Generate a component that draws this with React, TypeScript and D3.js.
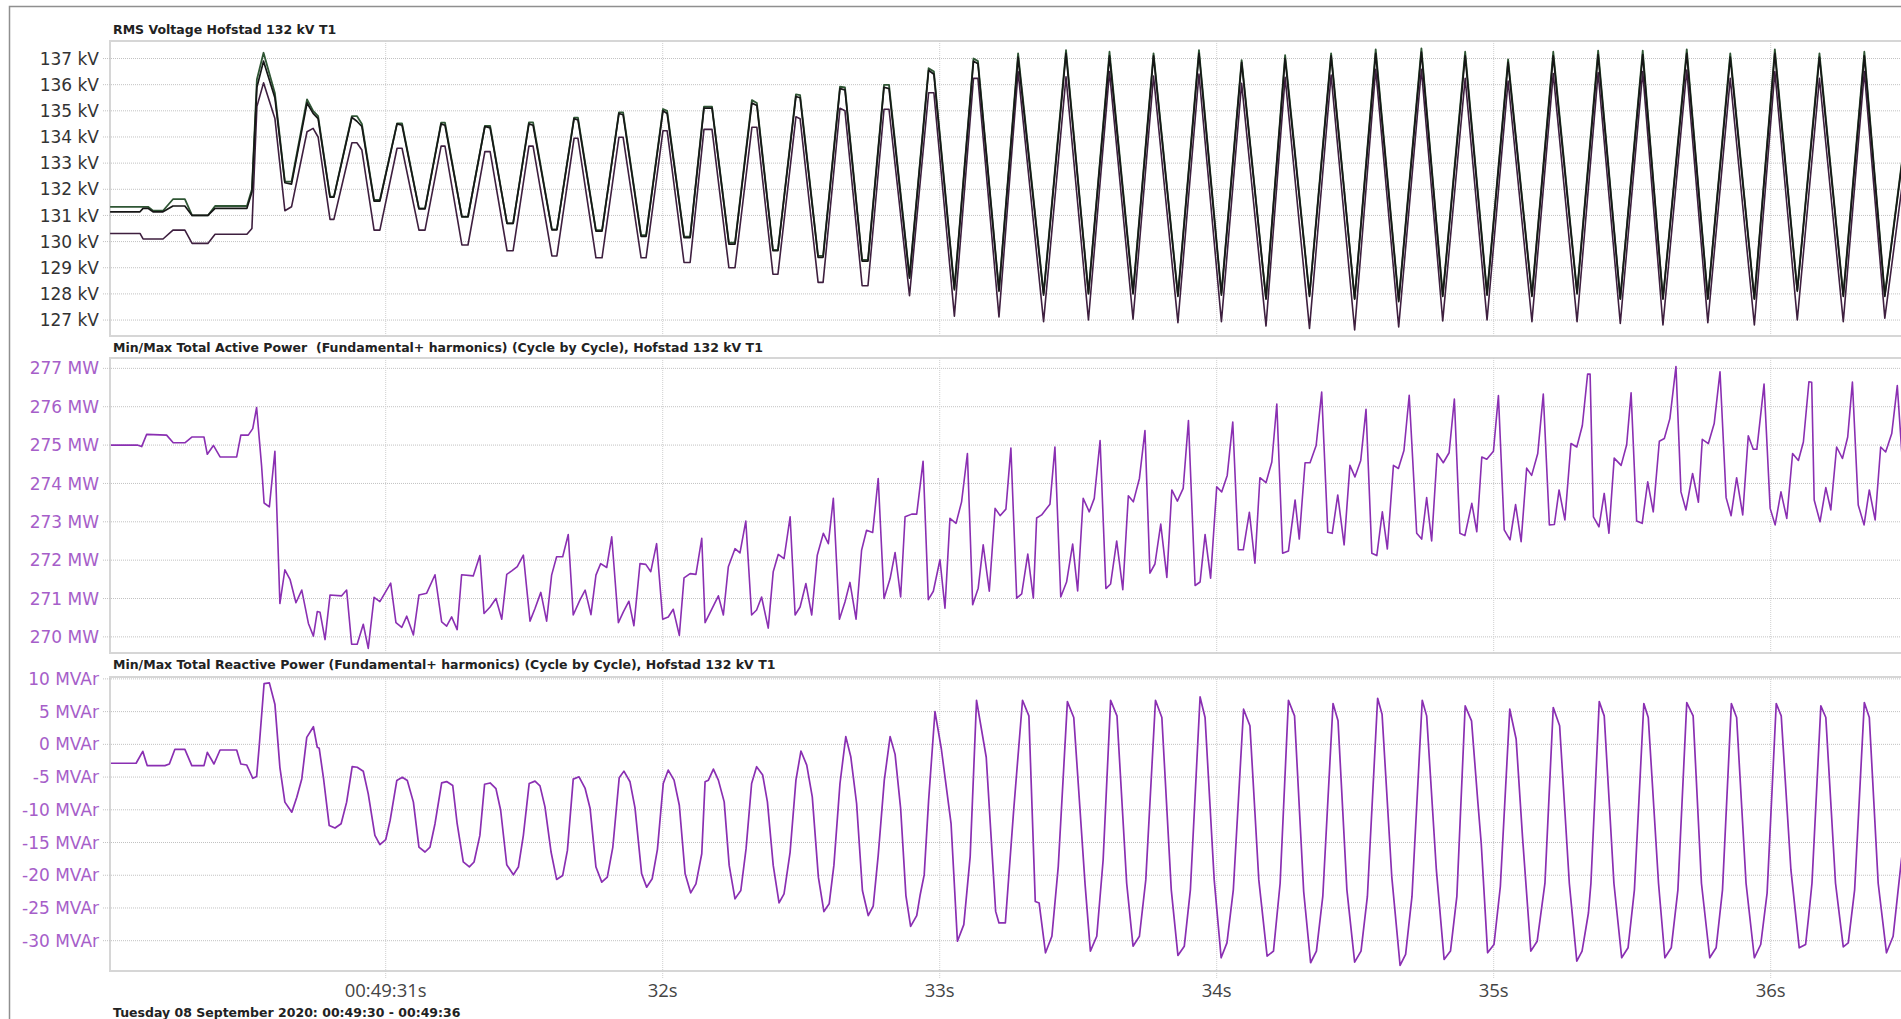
import React from 'react';
import * as d3 from 'd3';

// ---------- RMS voltage (three phases), time in seconds after 00:49:00 ----------
const vTime = [
  30.005, 30.113, 30.124, 30.142, 30.160, 30.196, 30.232, 30.275, 30.301, 30.358,
  30.384, 30.499, 30.517, 30.535, 30.559, 30.600, 30.636, 30.660, 30.716, 30.738,
  30.756, 30.799, 30.813, 30.878, 30.896, 30.914, 30.958, 30.979, 31.041, 31.059,
  31.120, 31.142, 31.200, 31.214, 31.275, 31.297, 31.358, 31.377, 31.438, 31.460,
  31.517, 31.532, 31.600, 31.618, 31.680, 31.694, 31.759, 31.781, 31.842, 31.857,
  31.922, 31.940, 32.001, 32.016, 32.077, 32.099, 32.149, 32.178, 32.239, 32.261,
  32.322, 32.340, 32.398, 32.416, 32.481, 32.496, 32.561, 32.579, 32.640, 32.658,
  32.720, 32.741, 32.799, 32.817, 32.891, 32.960, 32.979, 33.053, 33.122, 33.138,
  33.214, 33.283, 33.375, 33.456, 33.537, 33.613, 33.698, 33.772, 33.860, 33.936,
  34.017, 34.090, 34.178, 34.247, 34.335, 34.413, 34.498, 34.574, 34.657, 34.739,
  34.816, 34.897, 34.976, 35.052, 35.138, 35.215, 35.301, 35.377, 35.457, 35.538,
  35.611, 35.697, 35.773, 35.854, 35.941, 36.015, 36.096, 36.176, 36.262, 36.338,
  36.412, 36.485,
];
const vPhaseGreen = [
  131.33, 131.33, 131.33, 131.33, 131.18, 131.18, 131.62, 131.62, 131.0, 131.0,
  131.36, 131.36, 132.0, 136.2, 137.22, 135.67, 132.29, 132.29, 135.44, 135.0,
  134.8, 131.72, 131.72, 134.8, 134.8, 134.5, 131.59, 131.59, 134.52, 134.52,
  131.27, 131.27, 134.55, 134.55, 130.95, 130.95, 134.42, 134.42, 130.7, 130.7,
  134.56, 134.56, 130.47, 130.47, 134.74, 134.74, 130.44, 130.44, 134.94, 134.94,
  130.25, 130.25, 135.07, 135.0, 130.19, 130.19, 135.16, 135.16, 129.96, 129.96,
  135.41, 135.3, 129.68, 129.68, 135.63, 135.6, 129.45, 129.45, 135.92, 135.9,
  129.3, 129.3, 135.99, 135.99, 128.66, 136.63, 136.5, 128.21, 137.0, 136.9,
  128.15, 137.2, 128.02, 137.32, 128.04, 137.26, 128.08, 137.2, 127.96, 137.32,
  128.02, 136.94, 127.83, 137.13, 127.96, 137.2, 127.83, 137.35, 127.76, 137.39,
  127.96, 137.26, 128.02, 136.97, 127.96, 137.26, 128.08, 137.3, 127.83, 137.3,
  127.83, 137.35, 127.83, 137.2, 127.83, 137.35, 128.15, 137.2, 127.96, 137.26,
  127.96, 134.0,
];
const vPhaseBlack = [
  131.14, 131.14, 131.27, 131.27, 131.14, 131.14, 131.36, 131.36, 131.0, 131.0,
  131.27, 131.27, 131.9, 135.9, 136.9, 135.5, 132.25, 132.2, 135.3, 134.9,
  134.7, 131.7, 131.7, 134.75, 134.6, 134.4, 131.55, 131.55, 134.5, 134.45,
  131.25, 131.25, 134.5, 134.45, 130.95, 130.95, 134.4, 134.35, 130.7, 130.7,
  134.5, 134.45, 130.45, 130.45, 134.7, 134.65, 130.4, 130.4, 134.9, 134.85,
  130.2, 130.2, 135.0, 134.9, 130.15, 130.15, 135.1, 135.1, 129.9, 129.9,
  135.3, 135.2, 129.65, 129.65, 135.55, 135.5, 129.4, 129.4, 135.85, 135.8,
  129.25, 129.25, 135.9, 135.85, 128.6, 136.55, 136.4, 128.15, 136.9, 136.8,
  128.1, 137.05, 127.95, 137.2, 128.0, 137.1, 128.0, 137.1, 127.9, 137.2,
  127.95, 136.85, 127.8, 137.0, 127.9, 137.1, 127.8, 137.2, 127.7, 137.25,
  127.9, 137.1, 127.95, 136.85, 127.9, 137.1, 128.0, 137.15, 127.8, 137.15,
  127.8, 137.2, 127.8, 137.05, 127.8, 137.2, 128.1, 137.05, 127.9, 137.1,
  127.9, 133.9,
];
const vPhasePurple = [
  130.31, 130.31, 130.1, 130.1, 130.1, 130.1, 130.44, 130.44, 129.93, 129.93,
  130.28, 130.28, 130.5, 135.16, 136.07, 134.71, 131.18, 131.33, 134.2, 134.33,
  134.0, 130.85, 130.85, 133.78, 133.78, 133.5, 130.44, 130.44, 133.57, 133.57,
  130.44, 130.44, 133.65, 133.65, 129.87, 129.87, 133.44, 133.44, 129.65, 129.65,
  133.65, 133.65, 129.45, 129.45, 133.95, 133.95, 129.38, 129.38, 133.99, 133.99,
  129.38, 129.38, 134.24, 134.24, 129.2, 129.2, 134.29, 134.29, 129.0, 129.0,
  134.37, 134.37, 128.75, 128.75, 134.77, 134.7, 128.44, 128.44, 135.1, 135.0,
  128.31, 128.31, 135.06, 135.06, 127.93, 135.69, 135.69, 127.15, 136.24, 136.24,
  127.12, 136.5, 126.94, 136.3, 127.0, 136.5, 127.03, 136.33, 126.9, 136.41,
  126.94, 136.05, 126.77, 136.28, 126.68, 136.37, 126.62, 136.59, 126.74, 136.59,
  126.97, 136.24, 127.0, 136.14, 126.94, 136.43, 126.94, 136.46, 126.87, 136.5,
  126.81, 136.56, 126.9, 136.24, 126.81, 136.5, 127.0, 136.24, 126.94, 136.5,
  127.07, 133.0,
];

// ---------- Total active power (MW) ----------
const pTime = [
  30.008, 30.103, 30.119, 30.137, 30.209, 30.233, 30.275, 30.300, 30.344, 30.356,
  30.378, 30.402, 30.462, 30.477, 30.504, 30.520, 30.534, 30.552, 30.561, 30.580,
  30.600, 30.618, 30.636, 30.655, 30.676, 30.697, 30.721, 30.739, 30.753, 30.763,
  30.781, 30.799, 30.841, 30.859, 30.877, 30.897, 30.919, 30.937, 30.958, 30.979,
  31.018, 31.037, 31.058, 31.076, 31.100, 31.120, 31.148, 31.178, 31.202, 31.220,
  31.238, 31.258, 31.274, 31.316, 31.340, 31.355, 31.377, 31.398, 31.419, 31.437,
  31.455, 31.475, 31.497, 31.521, 31.539, 31.560, 31.581, 31.599, 31.617, 31.639,
  31.659, 31.677, 31.701, 31.720, 31.741, 31.759, 31.776, 31.798, 31.816, 31.840,
  31.858, 31.878, 31.896, 31.918, 31.939, 31.957, 31.978, 32.000, 32.020, 32.038,
  32.060, 32.077, 32.099, 32.120, 32.141, 32.153, 32.171, 32.201, 32.219, 32.237,
  32.261, 32.279, 32.300, 32.321, 32.339, 32.357, 32.381, 32.399, 32.417, 32.438,
  32.460, 32.478, 32.496, 32.517, 32.538, 32.558, 32.580, 32.598, 32.616, 32.638,
  32.658, 32.676, 32.698, 32.718, 32.736, 32.758, 32.778, 32.799, 32.821, 32.839,
  32.859, 32.875, 32.899, 32.917, 32.940, 32.959, 32.977, 33.001, 33.019, 33.037,
  33.059, 33.079, 33.100, 33.119, 33.139, 33.157, 33.179, 33.200, 33.218, 33.239,
  33.257, 33.278, 33.296, 33.318, 33.338, 33.350, 33.368, 33.398, 33.416, 33.437,
  33.458, 33.480, 33.498, 33.518, 33.540, 33.558, 33.579, 33.600, 33.617, 33.639,
  33.661, 33.681, 33.699, 33.721, 33.741, 33.759, 33.777, 33.798, 33.820, 33.838,
  33.858, 33.879, 33.898, 33.922, 33.940, 33.958, 33.978, 34.000, 34.018, 34.038,
  34.058, 34.078, 34.096, 34.118, 34.138, 34.156, 34.178, 34.199, 34.217, 34.238,
  34.259, 34.283, 34.298, 34.319, 34.337, 34.359, 34.379, 34.401, 34.417, 34.437,
  34.460, 34.481, 34.499, 34.520, 34.539, 34.560, 34.578, 34.598, 34.616, 34.638,
  34.656, 34.676, 34.695, 34.722, 34.740, 34.758, 34.776, 34.796, 34.818, 34.839,
  34.858, 34.878, 34.896, 34.921, 34.939, 34.957, 34.975, 34.999, 35.017, 35.038,
  35.059, 35.079, 35.099, 35.119, 35.137, 35.159, 35.179, 35.201, 35.219, 35.236,
  35.257, 35.279, 35.300, 35.320, 35.339, 35.348, 35.360, 35.380, 35.399, 35.416,
  35.435, 35.460, 35.480, 35.496, 35.516, 35.536, 35.556, 35.576, 35.598, 35.616,
  35.636, 35.658, 35.676, 35.694, 35.718, 35.739, 35.753, 35.775, 35.796, 35.817,
  35.839, 35.857, 35.877, 35.899, 35.919, 35.937, 35.950, 35.976, 35.998, 36.016,
  36.037, 36.058, 36.079, 36.100, 36.118, 36.138, 36.148, 36.157, 36.178, 36.199,
  36.217, 36.238, 36.259, 36.278, 36.295, 36.316, 36.337, 36.356, 36.377, 36.397,
  36.415, 36.437, 36.457, 36.478, 36.490,
];
const pValue = [
  275.0, 275.0, 274.96, 275.28, 275.26, 275.06, 275.06, 275.21, 275.21, 274.76,
  274.99, 274.69, 274.69, 275.26, 275.26, 275.43, 275.98, 274.45, 273.49, 273.39,
  274.84, 270.87, 271.75, 271.49, 270.89, 271.22, 270.35, 270.02, 270.66, 270.64,
  269.93, 271.09, 271.07, 271.22, 269.81, 269.81, 270.33, 269.7, 271.03, 270.92,
  271.4, 270.37, 270.25, 270.54, 270.05, 271.09, 271.14, 271.62, 270.39, 270.28,
  270.52, 270.19, 271.62, 271.59, 272.12, 270.61, 270.78, 271.0, 270.46, 271.63,
  271.72, 271.83, 272.13, 270.41, 270.74, 271.16, 270.41, 271.61, 272.09, 272.09,
  272.67, 270.57, 270.96, 271.22, 270.58, 271.61, 271.91, 271.81, 272.61, 270.37,
  270.65, 270.93, 270.29, 271.91, 271.89, 271.7, 272.43, 270.46, 270.52, 270.72,
  270.04, 271.54, 271.65, 271.63, 272.57, 270.37, 270.63, 271.07, 270.57, 271.83,
  272.3, 272.19, 273.02, 270.57, 270.7, 271.04, 270.23, 271.7, 272.15, 272.04,
  273.13, 270.57, 270.78, 271.39, 270.57, 272.13, 272.7, 272.43, 273.61, 270.46,
  270.91, 271.42, 270.46, 272.26, 272.78, 272.72, 274.13, 271.0, 271.52, 272.2,
  271.04, 273.13, 273.2, 273.2, 274.58, 270.97, 271.19, 272.01, 270.75, 273.09,
  272.96, 273.52, 274.78, 270.84, 271.27, 272.4, 271.19, 273.35, 273.16, 273.33,
  274.92, 271.01, 271.12, 272.16, 271.01, 273.1, 273.18, 273.46, 274.95, 271.04,
  271.43, 272.42, 271.2, 273.61, 273.26, 273.61, 275.12, 271.26, 271.38, 272.5,
  271.23, 273.68, 273.52, 274.13, 275.38, 271.66, 271.9, 272.94, 271.55, 273.83,
  273.54, 273.87, 275.64, 271.34, 271.43, 272.67, 271.53, 273.91, 273.78, 274.21,
  275.6, 272.27, 272.27, 273.25, 271.92, 274.15, 274.02, 274.56, 276.07, 272.18,
  272.24, 273.57, 272.55, 274.54, 274.54, 274.99, 276.38, 272.73, 272.7, 273.7,
  272.4, 274.47, 274.17, 274.6, 275.93, 272.18, 272.12, 273.26, 272.29, 274.47,
  274.39, 274.86, 276.3, 272.7, 272.55, 273.63, 272.5, 274.78, 274.54, 274.8,
  276.2, 272.7, 272.64, 273.48, 272.74, 274.69, 274.63, 274.84, 276.29, 272.79,
  272.53, 273.45, 272.48, 274.4, 274.21, 274.78, 276.33, 272.92, 272.93, 273.83,
  273.05, 275.04, 274.95, 275.51, 276.85, 276.85, 273.13, 272.87, 273.74, 272.7,
  274.66, 274.47, 275.01, 276.36, 273.02, 272.96, 274.04, 273.26, 275.1, 275.17,
  275.69, 277.05, 273.78, 273.31, 274.26, 273.51, 275.15, 275.04, 275.56, 276.91,
  273.63, 273.16, 274.15, 273.18, 275.24, 274.89, 274.89, 276.59, 273.35, 272.92,
  273.78, 273.09, 274.78, 274.6, 275.08, 276.65, 276.64, 273.57, 273.0, 273.89,
  273.31, 274.95, 274.65, 275.21, 276.64, 273.44, 272.92, 273.83, 273.05, 274.95,
  274.82, 275.3, 276.55, 274.3, 273.5,
];

// ---------- Total reactive power (MVAr) ----------
const qTime = [
  30.008, 30.099, 30.123, 30.139, 30.203, 30.219, 30.239, 30.275, 30.300, 30.344,
  30.356, 30.380, 30.402, 30.462, 30.477, 30.498, 30.520, 30.534, 30.544, 30.561,
  30.580, 30.600, 30.618, 30.636, 30.661, 30.679, 30.697, 30.715, 30.739, 30.753,
  30.760, 30.775, 30.796, 30.817, 30.839, 30.859, 30.879, 30.897, 30.919, 30.937,
  30.961, 30.979, 31.000, 31.016, 31.040, 31.060, 31.078, 31.100, 31.120, 31.142,
  31.160, 31.178, 31.202, 31.220, 31.242, 31.258, 31.280, 31.302, 31.319, 31.340,
  31.357, 31.377, 31.398, 31.415, 31.437, 31.461, 31.479, 31.497, 31.518, 31.539,
  31.557, 31.575, 31.597, 31.617, 31.639, 31.656, 31.677, 31.698, 31.720, 31.738,
  31.759, 31.780, 31.800, 31.820, 31.843, 31.860, 31.882, 31.900, 31.924, 31.942,
  31.962, 31.981, 32.002, 32.020, 32.041, 32.060, 32.081, 32.101, 32.120, 32.141,
  32.153, 32.165, 32.183, 32.201, 32.222, 32.240, 32.261, 32.282, 32.301, 32.321,
  32.339, 32.361, 32.378, 32.399, 32.420, 32.438, 32.460, 32.481, 32.499, 32.520,
  32.540, 32.562, 32.582, 32.601, 32.618, 32.640, 32.661, 32.679, 32.700, 32.721,
  32.742, 32.760, 32.778, 32.800, 32.821, 32.839, 32.859, 32.878, 32.895, 32.917,
  32.929, 32.944, 32.960, 32.983, 33.006, 33.041, 33.064, 33.087, 33.110, 33.133,
  33.168, 33.202, 33.214, 33.237, 33.267, 33.299, 33.322, 33.345, 33.359, 33.382,
  33.405, 33.428, 33.461, 33.484, 33.525, 33.544, 33.567, 33.590, 33.617, 33.640,
  33.675, 33.698, 33.721, 33.744, 33.779, 33.802, 33.836, 33.860, 33.883, 33.905,
  33.940, 33.958, 33.991, 34.016, 34.037, 34.060, 34.097, 34.120, 34.152, 34.182,
  34.205, 34.229, 34.259, 34.281, 34.314, 34.339, 34.360, 34.383, 34.420, 34.438,
  34.470, 34.498, 34.521, 34.544, 34.581, 34.597, 34.632, 34.662, 34.682, 34.705,
  34.742, 34.758, 34.793, 34.821, 34.844, 34.867, 34.897, 34.920, 34.943, 34.955,
  34.978, 35.001, 35.024, 35.058, 35.081, 35.104, 35.134, 35.157, 35.185, 35.215,
  35.238, 35.273, 35.300, 35.319, 35.342, 35.351, 35.381, 35.399, 35.434, 35.462,
  35.485, 35.508, 35.542, 35.558, 35.595, 35.618, 35.641, 35.665, 35.697, 35.720,
  35.750, 35.780, 35.803, 35.826, 35.858, 35.877, 35.911, 35.941, 35.964, 35.987,
  36.020, 36.038, 36.073, 36.103, 36.126, 36.137, 36.149, 36.181, 36.199, 36.234,
  36.262, 36.280, 36.303, 36.338, 36.356, 36.388, 36.418, 36.442, 36.471, 36.500,
];
const qValue = [
  -2.89, -2.89, -1.07, -3.25, -3.25, -3.0, -0.76, -0.76, -3.25, -3.25,
  -1.22, -3.0, -0.86, -0.86, -3.0, -3.15, -5.18, -4.92, 0.05, 9.29,
  9.39, 6.14, -3.5, -8.83, -10.36, -8.07, -5.28, 1.07, 2.69, -0.46,
  -0.61, -5.03, -12.39, -12.79, -12.13, -8.83, -3.4, -3.5, -4.11, -7.56,
  -13.91, -15.33, -14.57, -11.62, -5.53, -5.03, -5.53, -8.83, -15.69, -16.45,
  -15.69, -12.13, -5.89, -5.69, -6.29, -12.13, -17.97, -18.73, -17.97, -13.91,
  -6.1, -5.9, -6.77, -10.07, -18.4, -19.93, -18.75, -13.9, -5.98, -5.62,
  -6.34, -9.56, -16.45, -20.64, -20.03, -16.2, -5.31, -4.96, -6.74, -9.81,
  -18.75, -21.05, -20.29, -15.69, -5.11, -4.09, -5.72, -9.71, -19.78, -21.82,
  -20.54, -16.04, -5.98, -3.93, -5.47, -9.3, -19.78, -22.69, -21.31, -16.71,
  -5.72, -5.47, -3.78, -5.47, -8.79, -18.5, -23.61, -22.33, -15.94, -5.98,
  -3.42, -4.7, -8.79, -18.5, -24.22, -22.84, -16.45, -5.47, -1.02, -3.17,
  -8.02, -20.29, -25.55, -24.37, -18.5, -5.98, 1.18, -1.89, -9.04, -22.33,
  -26.16, -24.73, -16.96, -5.47, 1.18, -1.53, -9.81, -23.1, -27.8, -26.16,
  -23.1, -19.95, -8.56, 5.01, -0.71, -12.1, -30.08, -27.54, -17.16, 6.73,
  -1.97, -25.52, -27.29, -27.29, -10.08, 6.73, 4.35, -24.0, -24.25, -31.85,
  -29.32, -18.68, 6.53, 4.1, -21.47, -31.59, -29.32, -17.67, 6.73, 4.35,
  -21.22, -30.84, -29.32, -20.71, 6.73, 4.1, -22.23, -32.25, -30.84, -22.23,
  7.24, 4.1, -20.71, -32.61, -30.33, -22.23, 5.37, 2.84, -20.71, -32.35,
  -31.59, -21.22, 6.73, 4.35, -22.48, -33.37, -31.59, -23.24, 6.23, 3.59,
  -22.23, -33.27, -31.59, -23.24, 7.04, 4.61, -20.2, -33.77, -32.1, -23.24,
  6.73, 4.35, -19.19, -32.86, -31.59, -23.24, 5.87, 3.59, -8.96, -15.14,
  -31.85, -30.58, -21.72, 5.37, 0.81, -14.13, -31.59, -30.08, -21.22, 5.62,
  2.84, -21.22, -33.11, -31.59, -25.77, -21.22, 6.53, 4.35, -21.22, -32.61,
  -31.09, -22.23, 6.23, 4.1, -21.22, -32.61, -31.09, -22.23, 6.38, 4.35,
  -21.22, -32.61, -31.09, -22.23, 6.23, 4.1, -21.22, -32.61, -30.58, -22.73,
  6.23, 4.35, -19.19, -31.09, -30.58, -26.28, -21.22, 5.87, 4.1, -21.22,
  -30.94, -30.33, -22.23, 6.38, 4.1, -21.22, -31.85, -29.32, -18.0, -8.0,
];

// ---------- ticks and labels ----------
const voltTicks = [127, 128, 129, 130, 131, 132, 133, 134, 135, 136, 137];
const mwTicks = [270, 271, 272, 273, 274, 275, 276, 277];
const mvarTicks = [-30, -25, -20, -15, -10, -5, 0, 5, 10];
const secTicks = [31, 32, 33, 34, 35, 36];
const secLabels = ['00:49:31s', '32s', '33s', '34s', '35s', '36s'];
const titleV = 'RMS Voltage Hofstad 132 kV T1';
const titleP = 'Min/Max Total Active Power  (Fundamental+ harmonics) (Cycle by Cycle), Hofstad 132 kV T1';
const titleQ = 'Min/Max Total Reactive Power (Fundamental+ harmonics) (Cycle by Cycle), Hofstad 132 kV T1';
const footer = 'Tuesday 08 September 2020: 00:49:30 - 00:49:36';

const W = 1901;
const H = 1019;
const PLOT_LEFT = 110;
const PLOT_RIGHT = 1910;
const LABEL_PURPLE = '#a65ec9';
const LINE_PURPLE = '#8a2fb2';
const TITLE_FONT = 12.5;

export default function App() {
  const x = d3.scaleLinear().domain([30, 37]).range([108.7, 2047.7]);

  const panels = [
    {
      key: 'v', title: titleV, titleY: 34, top: 41, bottom: 336,
      domain: [126.39, 137.67], ticks: voltTicks, unit: 'kV', labelColor: '#333333',
      series: [
        { t: vTime, v: vPhasePurple, color: '#3e1f3f', w: 1.6 },
        { t: vTime, v: vPhaseGreen, color: '#2f5634', w: 1.8 },
        { t: vTime, v: vPhaseBlack, color: '#161616', w: 1.7 },
      ],
    },
    {
      key: 'p', title: titleP, titleY: 351.5, top: 358, bottom: 653,
      domain: [269.58, 277.27], ticks: mwTicks, unit: 'MW', labelColor: LABEL_PURPLE,
      series: [{ t: pTime, v: pValue, color: LINE_PURPLE, w: 1.6 }],
    },
    {
      key: 'q', title: titleQ, titleY: 669, top: 677, bottom: 971,
      domain: [-34.63, 10.29], ticks: mvarTicks, unit: 'MVAr', labelColor: LABEL_PURPLE,
      series: [{ t: qTime, v: qValue, color: LINE_PURPLE, w: 1.7 }],
    },
  ];

  return (
    <div style={{ position: 'absolute', left: 0, top: 0, width: W, height: H, overflow: 'hidden', background: '#fff' }}>
      <svg width={W} height={H} style={{ display: 'block' }}>
        <rect x={0} y={0} width={W} height={H} fill="#ffffff" />
        <defs>
          {panels.map((p) => (
            <clipPath id={`clip-${p.key}`} key={p.key}>
              <rect x={PLOT_LEFT} y={p.top} width={PLOT_RIGHT - PLOT_LEFT} height={p.bottom - p.top} />
            </clipPath>
          ))}
        </defs>

        {/* outer frame */}
        <path d={`M9.5,${H} V6.5 H${W}`} fill="none" stroke="#8f8f8f" strokeWidth={1.5} />

        {panels.map((p) => {
          const y = d3.scaleLinear().domain(p.domain).range([p.bottom, p.top]);
          return (
            <g key={p.key}>
              <text x={113} y={p.titleY} fontFamily="'DejaVu Sans', Verdana, sans-serif" fontWeight="bold"
                fontSize={TITLE_FONT} fill="#222" style={{ whiteSpace: 'pre' }}>{p.title}</text>

              {/* plot border */}
              <rect x={PLOT_LEFT} y={p.top} width={PLOT_RIGHT - PLOT_LEFT} height={p.bottom - p.top}
                fill="#fff" stroke="#d6d6d6" strokeWidth={2} />

              {/* horizontal grid */}
              {p.ticks.map((tk) => (
                <line key={`h${tk}`} x1={103} x2={PLOT_RIGHT} y1={y(tk)} y2={y(tk)}
                  stroke="#c2c2c2" strokeWidth={1} strokeDasharray="1,1" />
              ))}
              {/* vertical grid */}
              {secTicks.map((s) => (
                <line key={`v${s}`} x1={x(s)} x2={x(s)} y1={p.top} y2={p.key === 'q' ? p.bottom + 8 : p.bottom}
                  stroke="#cfcfcf" strokeWidth={1} strokeDasharray="1,1" />
              ))}

              {/* y labels */}
              {p.ticks.map((tk) => (
                <text key={`l${tk}`} x={99} y={y(tk)} dy="0.36em" textAnchor="end"
                  fontFamily="'DejaVu Sans', Verdana, sans-serif" fontSize={17} fill={p.labelColor}>
                  {`${tk} ${p.unit}`}
                </text>
              ))}

              {/* series */}
              <g clipPath={`url(#clip-${p.key})`}>
                {p.series.map((s, i) => {
                  const line = d3.line<number>().x((_, j) => x(s.t[j])).y((d) => y(d));
                  return <path key={i} d={line(s.v) || ''} fill="none" stroke={s.color}
                    strokeWidth={s.w} strokeLinejoin="round" />;
                })}
              </g>
            </g>
          );
        })}

        {/* x labels */}
        {secTicks.map((s, i) => (
          <text key={`xl${s}`} x={x(s)} y={997} textAnchor="middle"
            fontFamily="'Open Sans', 'Noto Sans', sans-serif" fontSize={18.5} fill="#444">
            {secLabels[i]}
          </text>
        ))}

        <text x={113} y={1017} fontFamily="'DejaVu Sans', Verdana, sans-serif" fontWeight="bold"
          fontSize={TITLE_FONT} fill="#222">{footer}</text>
      </svg>
    </div>
  );
}
